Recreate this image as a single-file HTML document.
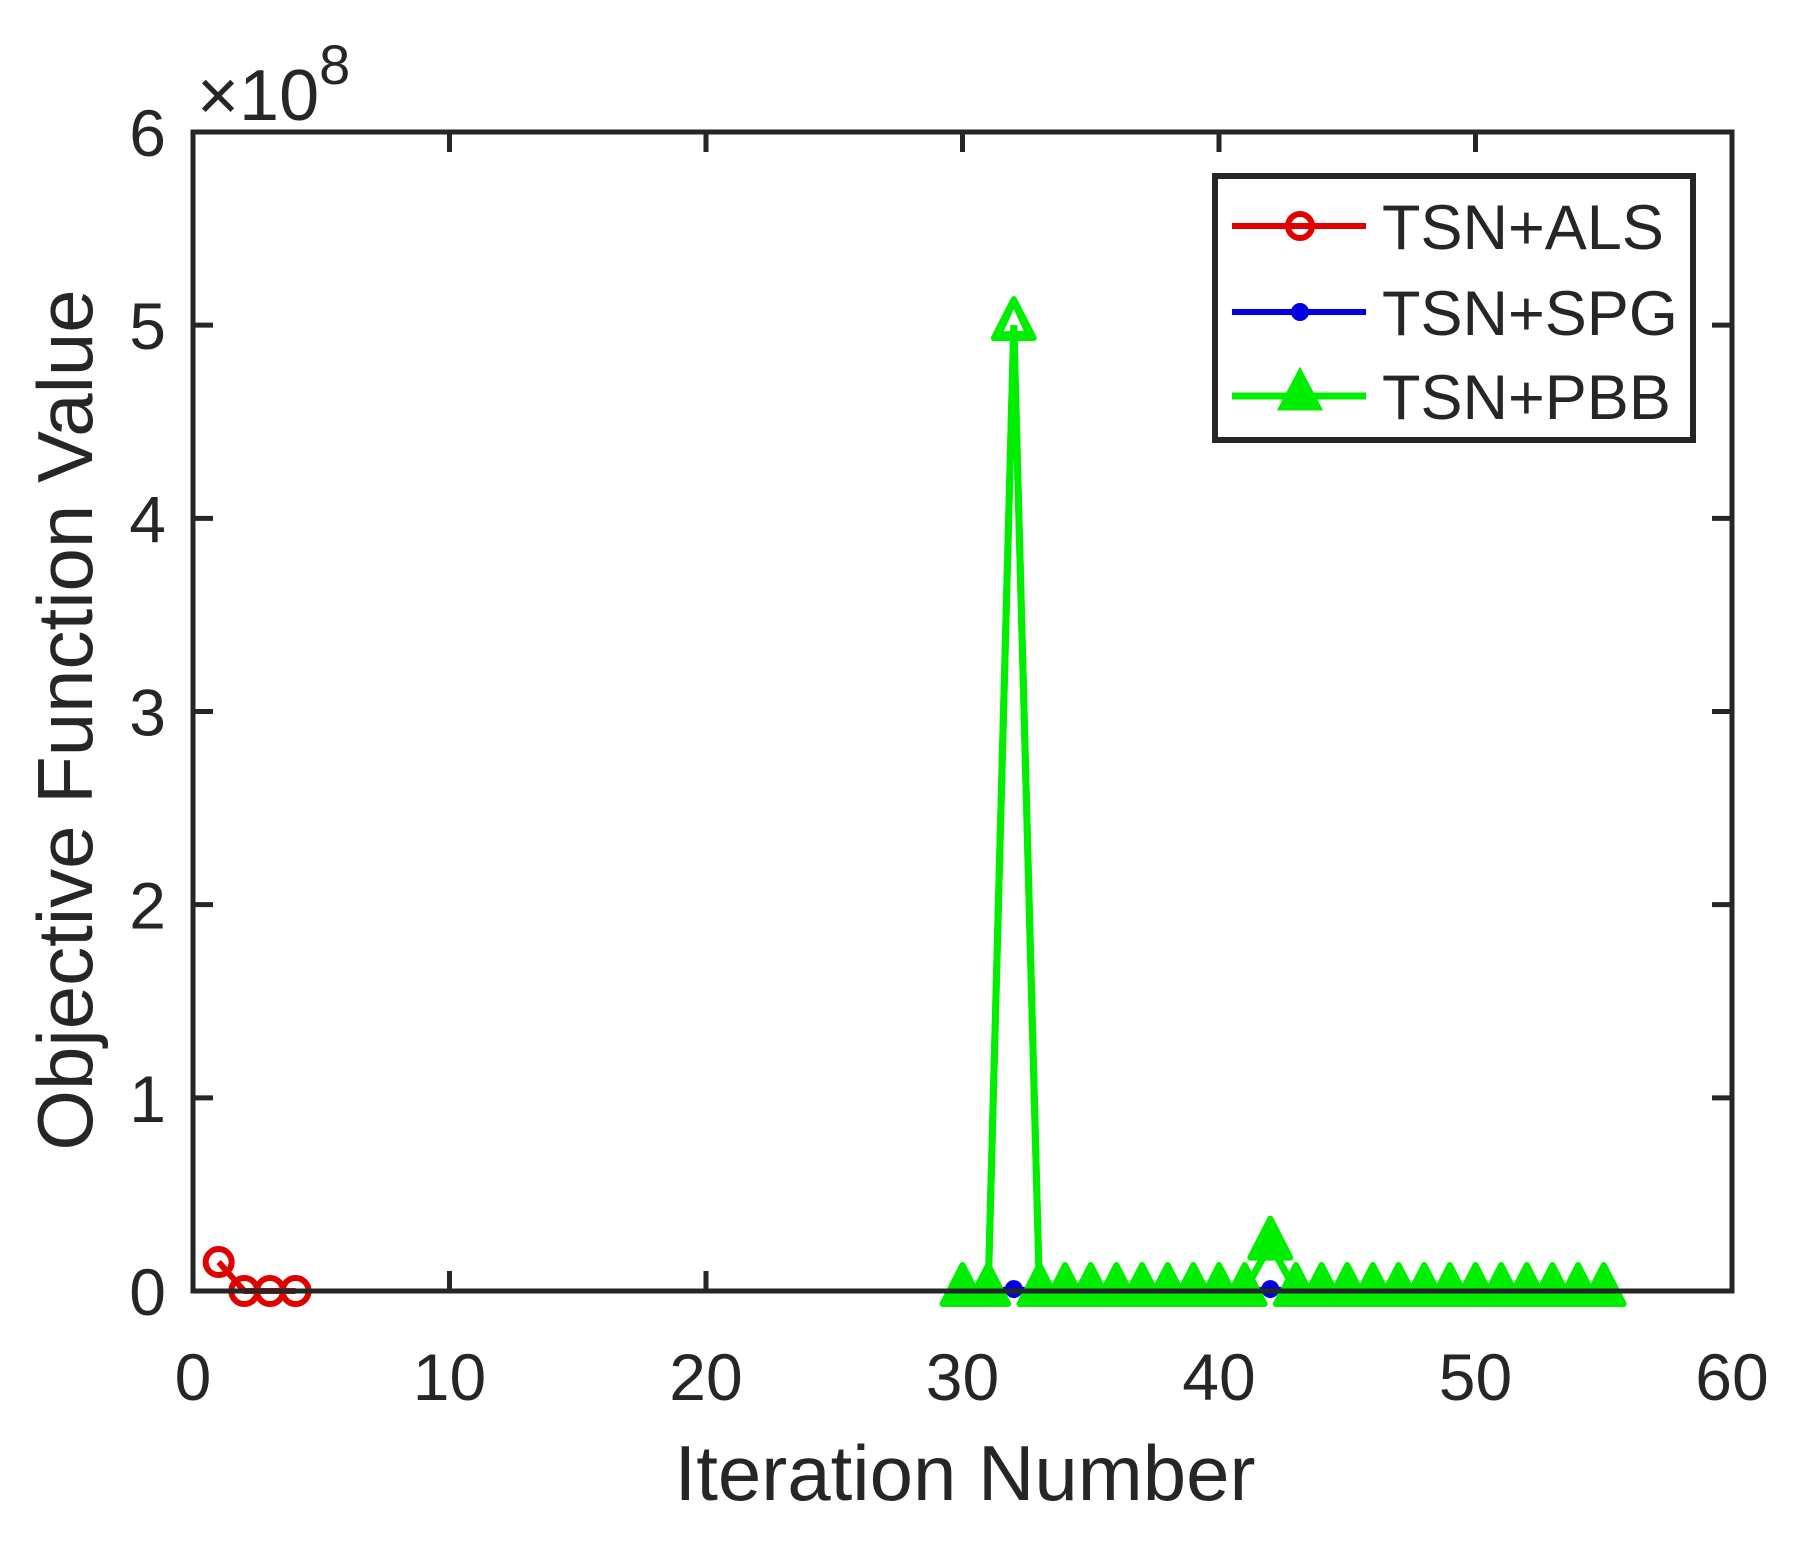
<!DOCTYPE html>
<html><head><meta charset="utf-8"><style>
body{margin:0;background:#fff;}
svg{display:block;font-family:"Liberation Sans",Arial,sans-serif;}
</style></head><body>
<svg id="chart" width="1816" height="1554" viewBox="0 0 1816 1554" xmlns="http://www.w3.org/2000/svg">
<rect width="1816" height="1554" fill="#fff"/>
<g id="plot"></g>
</svg>
<script>
const xTicks=[0,10,20,30,40,50,60];
const yTicks=[0,1,2,3,4,5,6];
const alsX=[1,2,3,4];
const alsY=[0.15,0.0,0.0,0.0];
const spgX=[30,31,32,33,34,35,36,37,38,39,40,41,42,43,44,45,46,47,48,49,50,51,52,53,54,55];
const spgY=[0,0,0.01,0,0,0,0,0,0,0,0,0,0.01,0,0,0,0,0,0,0,0,0,0,0,0,0];
const pbbX=[30,31,32,33,34,35,36,37,38,39,40,41,42,43,44,45,46,47,48,49,50,51,52,53,54,55];
const pbbY=[0,0,5.0,0,0,0,0,0,0,0,0,0,0.24,0,0,0,0,0,0,0,0,0,0,0,0,0];

const L=193,R=1732,T=132,B=1291;
const sx=v=>L+(v-0)/60*(R-L);
const sy=v=>B-(v-0)/6*(B-T);
const NS="http://www.w3.org/2000/svg";
const g=document.getElementById('plot');
function mk(tag,attrs,parent){const e=document.createElementNS(NS,tag);for(const k in attrs)e.setAttribute(k,attrs[k]);(parent||g).appendChild(e);return e;}

xTicks.forEach(t=>{
  const x=sx(t);
  mk('line',{x1:x,y1:B,x2:x,y2:B-20,stroke:'#262626','stroke-width':5});
  mk('line',{x1:x,y1:T,x2:x,y2:T+20,stroke:'#262626','stroke-width':5});
  const tx=mk('text',{x:x,y:1400,'font-size':66,'text-anchor':'middle',fill:'#262626'});
  tx.textContent=t;
  
  
});
yTicks.forEach(t=>{
  const y=sy(t);
  mk('line',{x1:L,y1:y,x2:L+20,y2:y,stroke:'#262626','stroke-width':5});
  mk('line',{x1:R,y1:y,x2:R-20,y2:y,stroke:'#262626','stroke-width':5});
  const tx=mk('text',{x:166,y:y+24,'font-size':66,'text-anchor':'end',fill:'#262626'});
  tx.textContent=t;
  
  
});

function series(xs,ys,color,name,w){
  const pts=xs.map((x,i)=>sx(x)+','+sy(ys[i])).join(' ');
  const pl=mk('polyline',{points:pts,fill:'none',stroke:color,'stroke-width':w,'stroke-linejoin':'round'});
  
  
}
function circleMarkers(xs,ys){
  xs.forEach((x,i)=>{
    const c=mk('circle',{cx:sx(x),cy:sy(ys[i]),r:13,fill:'none',stroke:'#e00000','stroke-width':6});
    
    
  });
}
function dotMarkers(xs,ys){
  xs.forEach((x,i)=>{
    const c=mk('circle',{cx:sx(x),cy:sy(ys[i]),r:9,fill:'#0000e0'});
    
    
  });
}
function triMarkers(xs,ys){
  xs.forEach((x,i)=>{
    const cx=sx(x),cy=sy(ys[i]);
    const p=mk('polygon',{points:`${cx},${cy-26} ${cx-20},${cy+13} ${cx+20},${cy+13}`,fill:'#00ee00',stroke:'#00ee00','stroke-width':6,'stroke-linejoin':'round'});
    
    
  });
}
series(alsX,alsY,'#e00000','als',6);
circleMarkers(alsX,alsY);
series(spgX,spgY,'#0000e0','spg',6);
dotMarkers(spgX,spgY);
series(pbbX,pbbY,'#00ee00','pbb',7);
triMarkers(pbbX,pbbY);
(function(){const cx=sx(32),cy=sy(5.0);mk('polygon',{points:`${cx},${cy-16} ${cx-10},${cy+6} ${cx+10},${cy+6}`,fill:'#fff'});
 mk('line',{x1:cx,y1:cy,x2:sx(31),y2:sy(0),stroke:'#00ee00','stroke-width':7});mk('line',{x1:cx,y1:cy,x2:sx(33),y2:sy(0),stroke:'#00ee00','stroke-width':7});})();

const box=mk('rect',{x:L,y:T,width:R-L,height:B-T,fill:'none',stroke:'#262626','stroke-width':5});



const ex=mk('text',{x:197,y:120,'font-size':72,fill:'#262626'});


ex.innerHTML='×10<tspan dy="-36" font-size="56">8</tspan>';

const xt=mk('text',{x:965,y:1500,'font-size':78,'text-anchor':'middle',fill:'#262626'});
xt.textContent='Iteration Number';


const yt=mk('text',{x:0,y:0,'font-size':78,'text-anchor':'middle',fill:'#262626',transform:'translate(92,720) rotate(-90)'});
yt.textContent='Objective Function Value';



const lg=mk('g',{});


mk('rect',{x:1215,y:176,width:478,height:264,fill:'#fff',stroke:'#262626','stroke-width':6},lg);
const names=['TSN+ALS','TSN+SPG','TSN+PBB'];
const cols=['#e00000','#0000e0','#00ee00'];
const ly=[226,312,396];
names.forEach((n,i)=>{
  const e=mk('g',{},lg);
  
  
  mk('line',{x1:1232,y1:ly[i],x2:1366,y2:ly[i],stroke:cols[i],'stroke-width':i===2?7:6},e);
  const m=1300;
  if(i===0)mk('circle',{cx:m,cy:ly[i],r:12,fill:'none',stroke:cols[i],'stroke-width':6},e);
  if(i===1)mk('circle',{cx:m,cy:ly[i],r:9,fill:cols[i]},e);
  if(i===2)mk('polygon',{points:`${m},${ly[i]-24} ${m-19},${ly[i]+12} ${m+19},${ly[i]+12}`,fill:cols[i],stroke:cols[i],'stroke-width':5},e);
  const t=mk('text',{x:1382,y:ly[i]+23,'font-size':63,fill:'#262626'},e);
  t.textContent=n;
});
</script>
</body></html>
